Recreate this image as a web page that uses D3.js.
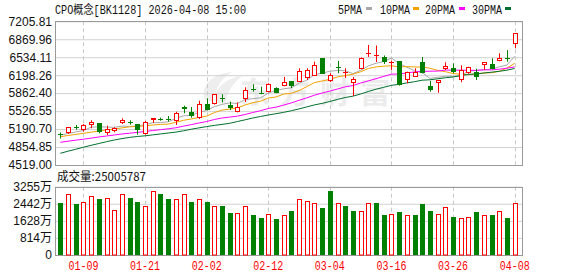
<!DOCTYPE html>
<html><head><meta charset="utf-8">
<script src="https://cdn.jsdelivr.net/npm/d3@7/dist/d3.min.js"></script>
<style>body{margin:0;background:#fff;overflow:hidden}</style>
</head><body><svg id="c" width="578" height="276"></svg>
<script>
const dates = ["01-06","01-07","01-08","01-09","01-12","01-13","01-14","01-15","01-16","01-19","01-20","01-21","01-22","01-23","01-26","01-27","01-28","01-29","01-30","02-02","02-03","02-04","02-05","02-06","02-09","02-10","02-11","02-12","02-13","02-24","02-25","02-26","02-27","03-02","03-03","03-04","03-05","03-06","03-09","03-10","03-11","03-12","03-13","03-16","03-17","03-18","03-19","03-20","03-23","03-24","03-25","03-26","03-27","03-30","03-31","04-01","04-02","04-03","04-07","04-08"];
const open  = [5102,5123,5228,5179,5261,5304,5117,5160,5299,5329,5280,5099,5355,5387,5379,5351,5609,5510,5392,5654,5654,5781,5641,5504,5759,5931,5871,5878,5953,5991,6090,6077,6140,6189,6511,6084,6346,6258,6047,6314,6595,6572,6529,6434,6458,6109,6165,6440,5996,6047,6309,6339,6109,6234,6252,6383,6408,6458,6518,6776];
const high  = [5127,5230,5267,5286,5355,5304,5254,5224,5392,5355,5280,5342,5392,5404,5435,5516,5628,5604,5721,5766,5847,5841,5703,5691,5972,6028,5983,6047,5972,6165,6090,6327,6327,6451,6514,6234,6464,6327,6165,6529,6763,6754,6567,6469,6464,6264,6327,6539,6090,6109,6440,6421,6383,6357,6320,6440,6514,6608,6670,6982];
const low   = [5015,5099,5179,5142,5205,5112,5080,5131,5286,5273,5086,5086,5304,5347,5329,5267,5486,5404,5379,5542,5648,5691,5548,5504,5697,5890,5841,5878,5860,5991,5959,6077,6109,6189,6221,6071,6234,6146,5809,6309,6539,6445,6408,6296,6002,6047,6165,6234,5890,5871,6296,6234,6066,6221,6109,6296,6309,6458,6451,6701];
const close = [5095,5224,5218,5261,5329,5136,5192,5205,5366,5304,5168,5318,5392,5379,5374,5486,5561,5441,5665,5542,5841,5772,5579,5609,5921,5916,5841,6028,5860,6077,6002,6277,6296,6383,6221,6193,6337,6267,6122,6526,6608,6582,6436,6443,6015,6264,6252,6243,5921,6109,6365,6252,6296,6357,6159,6440,6309,6514,6509,6982];
const prevClose = 5110;
const volume = [2493,2907,2445,2526,2812,2669,2702,2130,2907,2717,2526,2335,3050,2907,2669,2669,2907,2526,2669,2526,2335,2335,2016,2002,2335,1906,1763,1954,1716,1906,2097,2669,2574,2478,2240,3050,2478,2335,2097,2097,2478,2478,1906,1954,2049,1906,1906,2431,2097,1954,2288,1811,1763,1811,2049,1906,1906,2097,1763,2500];
const ma5  = [5080,5108,5136,5164,5226,5233,5228,5224,5246,5241,5246,5273,5310,5312,5327,5390,5439,5448,5504,5538,5609,5652,5680,5669,5744,5759,5774,5864,5914,5944,5961,6049,6103,6208,6236,6273,6286,6281,6228,6288,6372,6421,6454,6518,6417,6348,6282,6243,6138,6157,6178,6178,6189,6275,6286,6301,6312,6355,6387,6552];
const ma10 = [5048,5071,5091,5112,5132,5153,5174,5192,5213,5233,5241,5250,5267,5278,5284,5317,5355,5379,5409,5432,5499,5546,5564,5587,5641,5684,5712,5772,5791,5845,5860,5910,5983,6060,6090,6118,6166,6191,6217,6262,6324,6353,6367,6374,6353,6359,6352,6350,6329,6288,6264,6230,6215,6208,6223,6239,6245,6271,6331,6419];
const ma20 = [4943,4964,4983,5001,5022,5043,5061,5080,5099,5114,5129,5145,5164,5179,5196,5215,5245,5274,5304,5332,5370,5398,5415,5433,5463,5501,5534,5576,5600,5639,5680,5729,5774,5824,5865,5901,5940,5981,6004,6052,6092,6133,6176,6217,6221,6239,6260,6269,6273,6275,6294,6292,6292,6290,6288,6299,6297,6310,6329,6353];
const ma30 = [4738,4777,4813,4852,4887,4921,4955,4986,5013,5035,5052,5065,5082,5099,5117,5134,5159,5188,5213,5237,5260,5278,5299,5332,5364,5398,5426,5454,5478,5503,5534,5568,5605,5643,5671,5706,5746,5781,5806,5847,5893,5936,5972,6008,6028,6054,6077,6105,6112,6131,6150,6165,6189,6213,6221,6239,6254,6271,6292,6324];
const priceTicks = [4519.00,4854.85,5190.70,5526.55,5862.40,6198.26,6534.11,6869.96,7205.81];
const volTicks = [0,814,1628,2442,3255];
const dateTicks = ["01-09","01-21","02-02","02-12","03-04","03-16","03-26","04-08"];
const titleText = "CPO概念[BK1128] 2026-04-08 15:00";
const volText = "成交量:25005787";
const maNames = ["5PMA","10PMA","20PMA","30PMA"];
const maColors = ["#a8a8a8","#f2a200","#ff00ff","#00702e"];
const watermark = "东方财富";

const RED = "#ff0000", GREEN = "#008000";
const svg = d3.select("#c");
const L = 55, R = 522, PT = 21.3, PB = 165, VT = 186.7, VB = 255;
const x = d3.scaleBand().domain(dates).range([56.5, 518.5]);
const cx = d => x(d) + x.bandwidth() / 2;
const y = d3.scaleLinear().domain([4519, 7205.81]).range([PB, PT]);
const yv = d3.scaleLinear().domain([0, 3255]).range([VB, VT]);
const numFont = "'Liberation Sans', Arial, 'Noto Sans CJK SC', sans-serif";
const monoFont = "'Liberation Mono', 'DejaVu Sans Mono', 'Noto Sans CJK SC', monospace";

// watermark
const wm = svg.append("g").attr("fill", "#ececec");
wm.append("path").attr("d", "M205,100 C200,85 212,74 232,72 C222,78 214,88 215,102 Z M214,102 C214,88 226,78 242,76 C232,84 226,94 226,104 Z").attr("fill", "#eeeeee");
wm.append("text").attr("x", 240).attr("y", 103).attr("font-size", 30).attr("font-weight", "bold")
  .attr("font-family", "'Noto Sans CJK SC', sans-serif").attr("letter-spacing", 10).text(watermark);

// price grid + axis
const gy = svg.append("g").attr("transform", `translate(${L},0)`)
  .call(d3.axisLeft(y).tickValues(priceTicks).tickSize(-(R - L)).tickSizeOuter(0).tickPadding(3).tickFormat(d => d.toFixed(2)));
gy.select(".domain").remove();
gy.selectAll(".tick line").attr("stroke", "#d2d2d2");
gy.selectAll(".tick text").attr("font-family", numFont).attr("font-size", 12).attr("fill", "#111");

const gv = svg.append("g").attr("transform", `translate(${L},0)`)
  .call(d3.axisLeft(yv).tickValues(volTicks).tickSize(-(R - L)).tickSizeOuter(0).tickPadding(3).tickFormat(d => d === 0 ? "0" : d + "万"));
gv.select(".domain").remove();
gv.selectAll(".tick line").attr("stroke", "#d2d2d2");
gv.selectAll(".tick text").attr("font-family", numFont).attr("font-size", 12).attr("fill", "#111");

// vertical dashed grid
const vg = svg.append("g").attr("stroke", "#c8c8c8").attr("stroke-dasharray", "4,3");
dateTicks.forEach(d => {
  const xx = Math.round(cx(d)) + 0.5;
  vg.append("line").attr("x1", xx).attr("x2", xx).attr("y1", PT).attr("y2", PB);
  vg.append("line").attr("x1", xx).attr("x2", xx).attr("y1", VT).attr("y2", VB);
});

// borders
svg.append("rect").attr("x", L + 0.5).attr("y", Math.round(PT) + 0.5).attr("width", R - L).attr("height", Math.round(PB) - Math.round(PT))
  .attr("fill", "none").attr("stroke", "#9a9a9a");
svg.append("rect").attr("x", L + 0.5).attr("y", Math.round(VT) + 0.5).attr("width", R - L).attr("height", VB - Math.round(VT))
  .attr("fill", "none").attr("stroke", "#9a9a9a");

// clip
svg.append("clipPath").attr("id", "pc").append("rect").attr("x", L + 1).attr("y", PT).attr("width", R - L - 1).attr("height", PB - PT);

// MA lines
const maData = [ma5, ma10, ma20, ma30];
const mg = svg.append("g").attr("clip-path", "url(#pc)");
maData.forEach((arr, k) => {
  const line = d3.line().x((v, i) => cx(dates[i])).y(v => y(v));
  mg.append("path").attr("d", line(arr)).attr("fill", "none").attr("stroke", maColors[k]).attr("stroke-width", 1);
});

// candles
const cg = svg.append("g").attr("clip-path", "url(#pc)");
dates.forEach((d, i) => {
  const c = Math.round(cx(d));
  const up = close[i] >= open[i];
  const col = up ? RED : GREEN;
  cg.append("line").attr("x1", c + 0.5).attr("x2", c + 0.5).attr("y1", y(high[i])).attr("y2", y(low[i])).attr("stroke", col);
  const yt = Math.round(y(Math.max(open[i], close[i])));
  const yb = Math.round(y(Math.min(open[i], close[i])));
  const h = Math.max(1, yb - yt);
  if (up) {
    if (h <= 1) cg.append("rect").attr("x", c - 2).attr("y", yt).attr("width", 5).attr("height", 1).attr("fill", col);
    else cg.append("rect").attr("x", c - 1.5).attr("y", yt + 0.5).attr("width", 4).attr("height", h - 1).attr("fill", "#fff").attr("stroke", col);
  } else {
    cg.append("rect").attr("x", c - 2).attr("y", yt).attr("width", 5).attr("height", h).attr("fill", col);
  }
});

// volume bars
const bg = svg.append("g");
dates.forEach((d, i) => {
  const c = Math.round(cx(d));
  const prev = i === 0 ? prevClose : close[i - 1];
  const up = close[i] >= prev;
  const top = Math.round(yv(volume[i]));
  if (up) bg.append("rect").attr("x", c - 1.5).attr("y", top + 0.5).attr("width", 4).attr("height", VB - top - 0.5).attr("fill", "#fff").attr("stroke", RED);
  else bg.append("rect").attr("x", c - 2).attr("y", top).attr("width", 5).attr("height", VB - top).attr("fill", GREEN);
});

// x labels
const xl = svg.append("g");
dateTicks.forEach(d => {
  xl.append("text").attr("x", cx(d)).attr("y", 270).attr("text-anchor", "middle")
    .attr("font-family", monoFont).attr("font-size", 12).attr("fill", RED)
    .attr("textLength", 30).attr("lengthAdjust", "spacingAndGlyphs").text(d);
});

// title
svg.append("text").attr("x", 55).attr("y", 14).attr("font-family", monoFont).attr("font-size", 12).attr("fill", "#111")
  .attr("textLength", 191).attr("lengthAdjust", "spacingAndGlyphs").text(titleText);

// legend
const lx = [338, 380, 425, 472], sx = [366, 413, 459, 505];
maNames.forEach((n, k) => {
  svg.append("text").attr("x", lx[k]).attr("y", 13.5).attr("font-family", monoFont).attr("font-size", 12).attr("fill", "#111")
    .attr("textLength", n.length * 6).attr("lengthAdjust", "spacingAndGlyphs").text(n);
  svg.append("rect").attr("x", sx[k]).attr("y", 7).attr("width", 6).attr("height", 3).attr("fill", maColors[k]);
});

// volume label
svg.append("text").attr("x", 57).attr("y", 181).attr("font-family", "'Noto Sans CJK SC', 'Liberation Sans', sans-serif").attr("font-size", 12).attr("fill", "#111")
  .attr("textLength", 89).attr("lengthAdjust", "spacingAndGlyphs").text(volText);
</script></body></html>
